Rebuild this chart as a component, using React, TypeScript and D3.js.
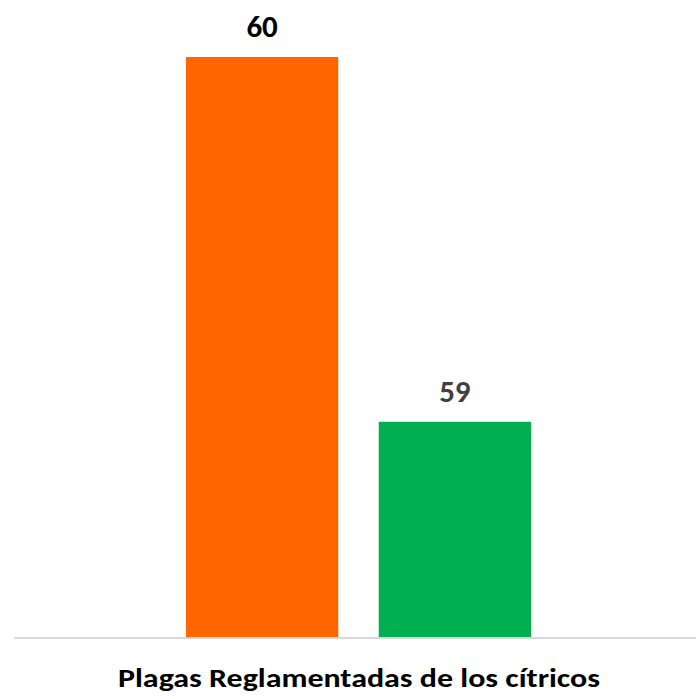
import * as d3 from 'd3';
import { useEffect, useRef } from 'react';

const category = 'Plagas Reglamentadas de los cítricos';
const seriesNames = ['Serie 1', 'Serie 2'];
const seriesValues = [60, 59];
const seriesColors = ['#ff6600', '#00b050'];
const labelColors = ['#000000', '#404040'];

const width = 696;
const height = 699;

export default function App() {
  const ref = useRef<SVGSVGElement>(null);

  useEffect(() => {
    document.body.style.margin = '0';
    const svg = d3.select(ref.current);
    svg.selectAll('*').remove();

    const baseY = 637;
    const font = 'Carlito, Calibri, "Open Sans", sans-serif';

    const x = d3.scaleBand()
      .domain(seriesNames)
      .range([186, 531])
      .paddingInner(0.21)
      .paddingOuter(0);

    // axis does not start at zero in the original
    const y = d3.scaleLinear()
      .domain([58.41, 60])
      .range([baseY, 57]);

    const data = seriesNames.map((name, i) => ({ name, value: seriesValues[i], i }));

    svg.selectAll('rect.bar')
      .data(data)
      .enter()
      .append('rect')
      .attr('class', 'bar')
      .attr('x', d => x(d.name)!)
      .attr('y', d => y(d.value))
      .attr('width', x.bandwidth())
      .attr('height', d => baseY - y(d.value))
      .attr('fill', d => seriesColors[d.i]);

    svg.append('line')
      .attr('x1', 14)
      .attr('x2', width)
      .attr('y1', baseY + 1)
      .attr('y2', baseY + 1)
      .attr('stroke', '#d9d9d9')
      .attr('stroke-width', 2);

    svg.selectAll('text.val')
      .data(data)
      .enter()
      .append('text')
      .attr('class', 'val')
      .attr('x', d => x(d.name)! + x.bandwidth() / 2)
      .attr('y', d => y(d.value) - 20)
      .attr('text-anchor', 'middle')
      .attr('font-family', font)
      .attr('font-weight', 'bold')
      .attr('font-size', 31)
      .attr('fill', d => labelColors[d.i])
      .text(d => d.value);

    svg.append('text')
      .attr('x', 359)
      .attr('y', 687)
      .attr('text-anchor', 'middle')
      .attr('font-family', font)
      .attr('font-weight', 'bold')
      .attr('font-size', 27)
      .attr('textLength', 482)
      .attr('lengthAdjust', 'spacingAndGlyphs')
      .attr('fill', '#000')
      .text(category);
  }, []);

  return <svg ref={ref} width={width} height={height} style={{ display: 'block' }} />;
}
